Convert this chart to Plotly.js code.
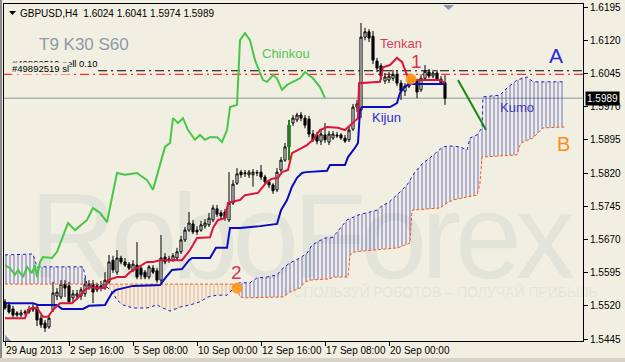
<!DOCTYPE html>
<html><head><meta charset="utf-8">
<script src="https://cdn.plot.ly/plotly-3.0.1.min.js"></script>
<style>
html,body{margin:0;padding:0;background:#f1efe2;}
#wrap{position:relative;width:625px;height:362px;overflow:hidden;background:#f1efe2;}
#wm{position:absolute;left:30px;top:176px;font-family:'Liberation Sans Narrow','Liberation Sans',Arial,sans-serif;font-size:120px;line-height:120px;color:#e3e4d9;white-space:nowrap;letter-spacing:-6px;}
#wm2{position:absolute;left:283px;top:284px;font-family:'Liberation Sans Narrow','Liberation Sans',Arial,sans-serif;font-size:14px;line-height:16px;color:#e4e5da;white-space:nowrap;}
#chart{position:absolute;left:0;top:0;width:625px;height:362px;}
#bl{position:absolute;left:0;top:0;width:2px;height:362px;background:#8a8a8a;}
#bb{position:absolute;left:0;top:358px;width:625px;height:4px;background:#d6d3ca;}
</style></head>
<body><div id="wrap">
<div id="wm">RoboForex</div>
<div id="wm2">ИСПОЛЬЗУЙ РОБОТОВ – ПОЛУЧАЙ ПРИБЫЛЬ</div>
<div id="chart"></div>
<div id="bl"></div><div id="bb"></div>
</div>
<script>
// ---- candle data (bar index 0..110, H4) ----
const open  = [1.5529,1.5522,1.5513,1.5504,1.5499,1.5504,1.5506,1.5511,1.5517,1.5492,1.5481,1.5472,1.5511,1.5542,1.5540,1.5569,1.5565,1.5538,1.5542,1.5542,1.5547,1.5562,1.5569,1.5556,1.5565,1.5560,1.5574,1.5623,1.5596,1.5628,1.5619,1.5614,1.5601,1.5612,1.5605,1.5596,1.5585,1.5605,1.5599,1.5578,1.5630,1.5626,1.5623,1.5628,1.5642,1.5669,1.5691,1.5705,1.5691,1.5691,1.5700,1.5703,1.5714,1.5739,1.5730,1.5732,1.5714,1.5752,1.5797,1.5822,1.5818,1.5816,1.5816,1.5820,1.5822,1.5811,1.5800,1.5793,1.5782,1.5827,1.5849,1.5879,1.5933,1.5940,1.5951,1.5944,1.5942,1.5908,1.5906,1.5892,1.5906,1.5890,1.5899,1.5906,1.5906,1.5899,1.5895,1.5919,1.5969,1.5962,1.6127,1.6139,1.6129,1.6073,1.6062,1.6028,1.6030,1.6034,1.6043,1.6023,1.6005,1.6016,1.6026,1.6028,1.6008,1.6034,1.6048,1.6039,1.6046,1.6032,1.6024];
const high  = [1.5535,1.5529,1.5520,1.5508,1.5511,1.5511,1.5520,1.5524,1.5522,1.5499,1.5488,1.5499,1.5574,1.5560,1.5578,1.5578,1.5574,1.5556,1.5556,1.5562,1.5583,1.5578,1.5578,1.5572,1.5576,1.5596,1.5635,1.5633,1.5646,1.5633,1.5628,1.5619,1.5623,1.5664,1.5612,1.5601,1.5612,1.5612,1.5605,1.5680,1.5639,1.5633,1.5639,1.5651,1.5678,1.5698,1.5732,1.5714,1.5700,1.5712,1.5716,1.5730,1.5748,1.5748,1.5736,1.5739,1.5822,1.5804,1.5831,1.5827,1.5827,1.5827,1.5829,1.5827,1.5838,1.5816,1.5804,1.5797,1.5831,1.5856,1.5888,1.5940,1.5951,1.5956,1.5958,1.5951,1.5949,1.5917,1.5913,1.5917,1.5933,1.5915,1.5915,1.5913,1.5910,1.5906,1.5926,1.5976,1.5985,1.6159,1.6148,1.6145,1.6141,1.6080,1.6068,1.6046,1.6048,1.6053,1.6050,1.6030,1.6023,1.6030,1.6039,1.6032,1.6043,1.6064,1.6055,1.6053,1.6053,1.6039,1.6041];
const low   = [1.5511,1.5502,1.5492,1.5495,1.5495,1.5499,1.5502,1.5506,1.5474,1.5470,1.5461,1.5468,1.5506,1.5533,1.5535,1.5540,1.5524,1.5529,1.5533,1.5533,1.5540,1.5556,1.5526,1.5551,1.5553,1.5556,1.5569,1.5594,1.5590,1.5614,1.5608,1.5601,1.5596,1.5580,1.5580,1.5580,1.5580,1.5592,1.5572,1.5572,1.5614,1.5617,1.5619,1.5623,1.5637,1.5664,1.5687,1.5682,1.5680,1.5687,1.5694,1.5698,1.5709,1.5721,1.5716,1.5712,1.5709,1.5748,1.5793,1.5809,1.5811,1.5809,1.5789,1.5813,1.5804,1.5795,1.5786,1.5773,1.5777,1.5822,1.5845,1.5872,1.5926,1.5935,1.5937,1.5921,1.5901,1.5890,1.5885,1.5883,1.5888,1.5883,1.5895,1.5899,1.5895,1.5888,1.5890,1.5915,1.5958,1.5944,1.6120,1.6116,1.6066,1.6048,1.6030,1.6021,1.6023,1.6028,1.6016,1.5985,1.5994,1.6012,1.6021,1.5989,1.6003,1.6030,1.6034,1.6034,1.6028,1.6019,1.5974];
const close = [1.5515,1.5506,1.5499,1.5499,1.5504,1.5506,1.5511,1.5517,1.5488,1.5477,1.5470,1.5492,1.5549,1.5551,1.5569,1.5560,1.5529,1.5547,1.5547,1.5556,1.5569,1.5569,1.5551,1.5565,1.5560,1.5578,1.5619,1.5601,1.5628,1.5619,1.5612,1.5605,1.5614,1.5585,1.5590,1.5585,1.5608,1.5596,1.5578,1.5628,1.5619,1.5623,1.5633,1.5642,1.5669,1.5691,1.5707,1.5687,1.5687,1.5703,1.5707,1.5718,1.5741,1.5727,1.5723,1.5718,1.5752,1.5795,1.5818,1.5816,1.5820,1.5822,1.5822,1.5821,1.5811,1.5800,1.5793,1.5780,1.5822,1.5849,1.5879,1.5928,1.5944,1.5951,1.5944,1.5928,1.5908,1.5895,1.5892,1.5908,1.5895,1.5908,1.5908,1.5904,1.5899,1.5892,1.5917,1.5969,1.5976,1.6127,1.6139,1.6125,1.6075,1.6057,1.6039,1.6037,1.6039,1.6043,1.6023,1.6005,1.6016,1.6026,1.6030,1.6003,1.6034,1.6050,1.6039,1.6046,1.6032,1.6023,1.5989];

// ---- Ichimoku lines (bar index, price) ----
const tenkanX = [0,5,5.75,6.75,8,8.75,9.5,10.75,12,13.75,16.75,18.25,20,21.25,23,25,25.75,28,30,31.25,33,35.5,37,38.75,44.25,46.25,48,51.25,52,53.25,55,55.75,56.75,58.75,60,63.25,64.5,65.5,66.75,68.25,69.25,70.75,71.75,75.5,77,78.75,80.5,83.25,85,86.25,87.75,88.25,88.5,93.75,94.5,96.25,98,99.25,100.5,101.25,108.75,110];
const tenkanY = [1.5492,1.5492,1.5511,1.5515,1.5515,1.5506,1.5495,1.5495,1.5511,1.5526,1.5526,1.5538,1.5556,1.5562,1.5560,1.5560,1.5578,1.5585,1.5585,1.5596,1.5605,1.5619,1.5619,1.5623,1.5623,1.5646,1.5673,1.5675,1.5696,1.5714,1.5718,1.5752,1.5755,1.5759,1.5770,1.5775,1.5789,1.5800,1.5807,1.5809,1.5822,1.5827,1.5865,1.5883,1.5895,1.5917,1.5924,1.5922,1.5917,1.5928,1.5940,1.5944,1.6023,1.6026,1.6059,1.6064,1.6080,1.6071,1.6041,1.6030,1.6030,1.6023];
const kijunX = [0,7,8.25,13,14.25,19.5,21,25,26.75,27.75,32,38.75,40.25,41.75,44.25,46,46.75,51.25,52.75,55.5,56.25,58.75,63.75,68,69,70.5,71.75,73,74.25,75.25,80.5,81.25,85,85.75,87.5,88.25,88.75,89.25,96.25,98,98.75,100,101.25,110];
const kijunY = [1.5526,1.5526,1.5522,1.5522,1.5513,1.5513,1.5520,1.5522,1.5549,1.5556,1.5565,1.5567,1.5585,1.5601,1.5603,1.5623,1.5628,1.5628,1.5651,1.5651,1.5696,1.5696,1.5700,1.5705,1.5736,1.5759,1.5789,1.5809,1.5820,1.5822,1.5825,1.5838,1.5838,1.5856,1.5877,1.5888,1.5962,1.5969,1.5969,1.5978,1.6001,1.6016,1.6021,1.6021];
const chinkouX = [0,1.25,2.5,3.25,4.5,5.5,6.75,7.5,8,8.75,9.5,11.75,13,15.75,17.5,20.5,22,23.75,25.5,28,30,33,35.5,37,40,41.25,42,43.25,44.5,45.75,47.5,48.75,50,51.25,53,54.25,55.5,56.25,58,58.25,58.75,60,61.25,62.5,64.5,65.5,67,68,69.25,70.5,72,73.75,75,77,78.75,80];
const chinkouY = [1.5612,1.5605,1.5590,1.5601,1.5585,1.5608,1.5594,1.5612,1.5585,1.5619,1.5630,1.5628,1.5642,1.5707,1.5691,1.5714,1.5741,1.5730,1.5709,1.5820,1.5816,1.5820,1.5804,1.5782,1.5879,1.5888,1.5944,1.5933,1.5944,1.5917,1.5895,1.5906,1.5895,1.5901,1.5901,1.5890,1.5917,1.5969,1.5974,1.6030,1.6120,1.6136,1.6120,1.6075,1.6030,1.6026,1.6041,1.6034,1.6008,1.6019,1.6026,1.6034,1.6048,1.6034,1.6014,1.5989];
const spanAX = [0,7,8,19.5,20.5,25,27,28,29.5,32,35.5,38,39.5,41.25,43.75,46.25,48.75,50.75,53,55.5,57,57.75,58.75,61.25,63,65.5,68,69.5,71.25,73.75,75.5,76.75,78,80,82,85.5,88.25,93,94.5,95.75,98.75,100.5,102.5,104.5,105.5,108,109.5,111.25,113.75,115.5,116.25,118,119.25,119.5,123.75,125.5,128,130.5,132,140];
const spanAY = [1.5635,1.5637,1.5608,1.5608,1.5569,1.5567,1.5549,1.5533,1.5522,1.5515,1.5515,1.5522,1.5515,1.5508,1.5517,1.5522,1.5529,1.5540,1.5544,1.5544,1.5558,1.5569,1.5572,1.5572,1.5583,1.5585,1.5590,1.5605,1.5617,1.5628,1.5639,1.5657,1.5664,1.5673,1.5675,1.5714,1.5725,1.5736,1.5748,1.5752,1.5777,1.5793,1.5822,1.5843,1.5849,1.5867,1.5879,1.5881,1.5879,1.5872,1.5899,1.5906,1.5922,1.5992,1.5996,1.6012,1.6030,1.6037,1.6026,1.6026];
const spanBX = [0,20.5,57.75,58.75,60,69.5,71.25,73.75,75,76.25,81.25,82,85.75,86.25,87.5,98.25,101.25,101.75,108.75,110.5,112,115.5,118,118.75,119.25,128,128.75,129.5,132,134.5,140];
const spanBY = [1.5569,1.5569,1.5569,1.5540,1.5538,1.5540,1.5551,1.5560,1.5574,1.5578,1.5581,1.5585,1.5585,1.5635,1.5642,1.5651,1.5662,1.5736,1.5741,1.5752,1.5759,1.5766,1.5770,1.5797,1.5856,1.5861,1.5883,1.5890,1.5899,1.5922,1.5924];
// cloud segments: [from, to, A above B?]
const cloudSegments = [[0,20.5,true],[20.5,57.75,false],[57.75,140,true]];

// ---- levels and marks ----
const lastPrice = 1.5989;
const orderOpen = 1.6051;
const orderSL = 1.6043;
const markX = [101.5, 58];
const markY = [1.6032, 1.5560];
const trendX = [113.25, 120.25];
const trendY = [1.6030, 1.5917];
const vlineX = [71, 71];
const vlineY = [1.5940, 1.5849];

// ---- axes ----
const xTickVals = [0,16,32,48,64,80,96];
const xTickText = ['29 Aug 2013','2 Sep 16:00','5 Sep 08:00','10 Sep 00:00','12 Sep 16:00','17 Sep 08:00','20 Sep 00:00'];
const yTickVals = [1.6195,1.6120,1.6045,1.5970,1.5895,1.5820,1.5745,1.5670,1.5595,1.5520,1.5445];
const yTickText = ['1.6195','1.6120','1.6045','1.5970','1.5895','1.5820','1.5745','1.5670','1.5595','1.5520','1.5445'];

const idx = open.map((_, i) => i);
const FONT = 'Liberation Sans, Arial, sans-serif';

function pick(xs, ys, a, b){
  const r = [];
  for (let k = 0; k < xs.length; k++) if (xs[k] >= a - 1e-9 && xs[k] <= b + 1e-9) r.push([xs[k], ys[k]]);
  return r;
}
const traces = [];
cloudSegments.forEach(s => {
  const A = pick(spanAX, spanAY, s[0], s[1]);
  const B = pick(spanBX, spanBY, s[0], s[1]).reverse();
  const pts = A.concat(B);
  traces.push({type:'scatter', mode:'lines', x: pts.map(p=>p[0]), y: pts.map(p=>p[1]),
    fill:'toself', fillcolor:'rgba(0,0,0,0)', line:{width:0},
    fillpattern:{shape:'|', fgcolor: s[2] ? '#1a1aa8' : '#f08050', bgcolor:'rgba(0,0,0,0)', size:4, solidity:0.25, fgopacity:0.6},
    hoverinfo:'skip'});
});
traces.push({type:'scatter', mode:'lines', x:spanAX, y:spanAY, line:{color:'#1a1ad0', width:1, dash:'dot'}, hoverinfo:'skip'});
traces.push({type:'scatter', mode:'lines', x:spanBX, y:spanBY, line:{color:'#ff5a10', width:1, dash:'3px,2px'}, hoverinfo:'skip'});
traces.push({type:'candlestick', x:idx, open:open, high:high, low:low, close:close,
  increasing:{line:{color:'#000', width:1}, fillcolor:'#ffffff'},
  decreasing:{line:{color:'#000', width:1}, fillcolor:'#000000'},
  whiskerwidth:0, hoverinfo:'skip'});
traces.push({type:'scatter', mode:'lines', x:kijunX, y:kijunY, line:{color:'#0a0ac0', width:2}, hoverinfo:'skip'});
traces.push({type:'scatter', mode:'lines', x:tenkanX, y:tenkanY, line:{color:'#dc143c', width:2}, hoverinfo:'skip'});
traces.push({type:'scatter', mode:'lines', x:chinkouX, y:chinkouY, line:{color:'#46c846', width:2}, hoverinfo:'skip'});
traces.push({type:'scatter', mode:'lines', x:trendX, y:trendY, line:{color:'#128a12', width:2}, hoverinfo:'skip'});
traces.push({type:'scatter', mode:'lines', x:vlineX, y:vlineY, line:{color:'#128a12', width:2}, hoverinfo:'skip'});
traces.push({type:'scatter', mode:'markers', x:markX, y:markY, marker:{size:11, color:'rgba(255,150,20,0.9)', line:{width:0}}, hoverinfo:'skip'});

const P = X => (X - 4) / 579;
const Q = Y => (341 - Y) / 337;
function tri(pts){ return 'M' + pts.map(p => P(p[0]) + ',' + Q(p[1])).join(' L') + ' Z'; }

const shapes = [
  {type:'line', xref:'paper', yref:'y', x0:0, x1:1, y0:lastPrice, y1:lastPrice, line:{color:'#8c979e', width:1}, layer:'below'},
  {type:'line', xref:'paper', yref:'y', x0:P(98), x1:1, y0:orderOpen, y1:orderOpen, line:{color:'#000', width:1, dash:'9px,4px,2px,4px'}, layer:'below'},
  {type:'line', xref:'paper', yref:'y', x0:0, x1:1, y0:orderSL, y1:orderSL, line:{color:'#ff0000', width:1, dash:'9px,4px,2px,4px'}, layer:'below'},
  {type:'path', xref:'paper', yref:'paper', path:tri([[9,11],[16,11],[12.5,15]]), fillcolor:'#000', line:{width:0}},
  {type:'path', xref:'paper', yref:'paper', path:tri([[443,5],[454,5],[448.5,10]]), fillcolor:'#8a98a6', line:{width:0}},
  {type:'path', xref:'paper', yref:'paper', path:tri([[5,335],[5,341],[11,341]]), fillcolor:'#8a98a6', line:{width:0}}
];

function ann(text, X, Y, size, color, extra){
  return Object.assign({text:text, xref:'paper', yref:'paper', x:P(X), y:Q(Y), xanchor:'left', yanchor:'middle', showarrow:false,
    font:{family:FONT, size:size, color:color}, borderpad:0}, extra || {});
}
const annotations = [
  ann('T9 K30 S60', 38, 45, 17, '#8d9ba7'),
  ann('#49892519 sell 0.10', 11, 63, 9.5, '#000'),
  ann('#49892519 sl', 11, 68, 9.5, '#000', {bgcolor:'#f1efe2'}),
  ann('Chinkou', 261, 53, 13, '#55c455'),
  ann('Tenkan', 379, 43, 13, '#d83c5a'),
  ann('Kijun', 371, 117, 13, '#2a2ad0'),
  ann('Kumo', 499, 107, 13, '#3a3ac8'),
  ann('A', 548, 55, 21, '#2a2ad8'),
  ann('B', 556, 144, 20, '#ff8c1a'),
  ann('1', 410, 62, 19, '#dc3250'),
  ann('2', 230, 272, 19, '#dc3250'),
  ann('1.5989', 585, 99, 10, '#ffffff', {bgcolor:'#000000', borderpad:1})
];

const layout = {
  width:625, height:362,
  margin:{l:4, r:42, t:4, b:21, pad:0},
  paper_bgcolor:'rgba(0,0,0,0)', plot_bgcolor:'rgba(0,0,0,0)',
  showlegend:false, boxgap:0.25, hovermode:false,
  title:{text:'GBPUSD,H4\u00a0 1.6024 1.6041 1.5974 1.5989', x:20/625, xanchor:'left', y:1-13/362, yanchor:'middle', font:{family:FONT, size:10, color:'#000'}},
  xaxis:{range:[-0.25,144.5], tickmode:'array', tickvals:xTickVals, ticktext:xTickText, ticks:'outside', ticklen:4, tickcolor:'#000',
    tickangle:0, ticklabelposition:'outside right', showgrid:false, zeroline:false, showline:true, mirror:true, linecolor:'#000', linewidth:1,
    tickfont:{family:FONT, size:10, color:'#000'}, rangeslider:{visible:false}, fixedrange:true, automargin:false},
  yaxis:{side:'right', range:[1.54405,1.62018], tickmode:'array', tickvals:yTickVals, ticktext:yTickText, ticks:'outside', ticklen:4, tickcolor:'#000',
    showgrid:false, zeroline:false, showline:true, mirror:true, linecolor:'#000', linewidth:1,
    tickfont:{family:FONT, size:10, color:'#000'}, fixedrange:true, automargin:false},
  shapes:shapes, annotations:annotations
};
Plotly.newPlot('chart', traces, layout, {displayModeBar:false, staticPlot:true});
</script>
</body></html>
